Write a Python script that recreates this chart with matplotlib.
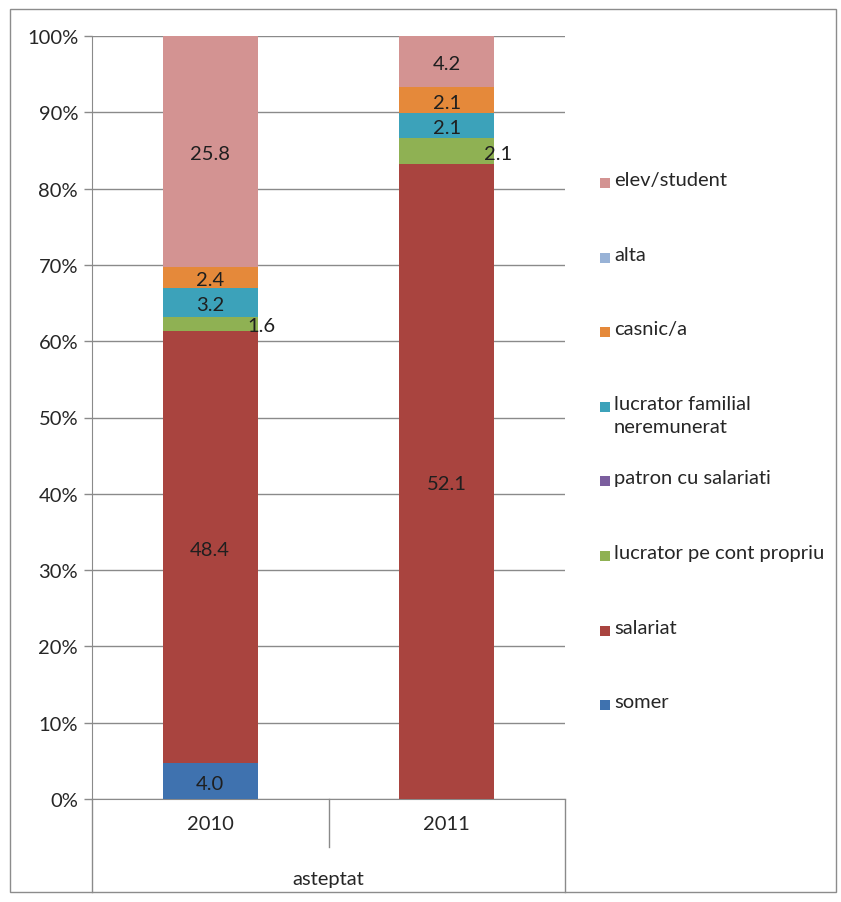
#!/usr/bin/env python3

import numpy as np
import matplotlib
matplotlib.use('Agg')
import matplotlib.pyplot as plt
from matplotlib.patches import Rectangle
from matplotlib.transforms import blended_transform_factory

plt.rcParams['font.family'] = ['Lato', 'DejaVu Sans']

# ------------------------------------------------------------
# data (values as printed on the bars; bars are 100% stacked)
# ------------------------------------------------------------
years = ["2010", "2011"]
group_label = "asteptat"

series_names = ["somer", "salariat", "lucrator pe cont propriu", "patron cu salariati",
                "lucrator familial\nneremunerat", "casnic/a", "alta", "elev/student"]
series_colors = ["#3F72AF", "#A9443F", "#8FB153", "#7B5E9E",
                 "#3CA2BA", "#E5893A", "#98B2D6", "#D39392"]

somer      = [4.0, 0.0]
salariat   = [48.4, 52.1]
cont_prop  = [1.6, 2.1]
patron     = [0.0, 0.0]
familial   = [3.2, 2.1]
casnic     = [2.4, 2.1]
alta       = [0.0, 0.0]
student    = [25.8, 4.2]

values = np.array([somer, salariat, cont_prop, patron, familial, casnic, alta, student])

FS = 14.5

# ------------------------------------------------------------
W, H = 841, 903
fig = plt.figure(figsize=(W / 100, H / 100), dpi=100)

# outer chart border
fig.patches.append(Rectangle((10 / W, 10 / H), 826 / W, 883 / H, transform=fig.transFigure,
                             fill=False, edgecolor='#8c8c8c', linewidth=1.0))

ax = fig.add_axes([92 / W, (H - 800) / H, (565 - 92) / W, (800 - 37) / H])

totals = values.sum(axis=0)
pct = values / totals * 100.0
x = np.arange(len(years))
bar_w = 0.4

bottom = np.zeros(len(years))
for i in range(len(series_names)):
    ax.bar(x, pct[i], bar_w, bottom=bottom, color=series_colors[i], linewidth=0, zorder=3)
    for j in range(len(years)):
        if values[i, j] <= 0:
            continue
        yc = bottom[j] + pct[i, j] / 2.0
        txt = "%.1f" % values[i, j]
        if i == 2:
            # small green segment: label pushed to the bar's right edge
            ax.annotate(txt, (x[j] + bar_w / 2, yc - 0.3), xytext=(-7, 0), textcoords='offset points',
                        ha='left', va='center', fontsize=FS, color='#1f1f1f', zorder=5)
        else:
            ax.text(x[j], yc - 0.3, txt, ha='center', va='center', fontsize=FS,
                    color='#1f1f1f', zorder=5)
    bottom += pct[i]

ax.set_xlim(-0.5, 1.5)
ax.set_ylim(0, 100)
ax.set_yticks(np.arange(0, 101, 10))
ax.set_yticklabels(["%d%%" % v for v in range(0, 101, 10)], fontsize=FS, color='#262626')
ax.yaxis.grid(True, color='#8a8a8a', linewidth=1.0, zorder=0)
ax.set_axisbelow(True)
ax.tick_params(axis='y', length=6, width=1, color='#8a8a8a', pad=4)

for side in ['top', 'right']:
    ax.spines[side].set_visible(False)
ax.spines['left'].set_color('#8a8a8a')
ax.spines['bottom'].set_color('#8a8a8a')

# multi-level category axis
ax.set_xticks([])
trans = blended_transform_factory(ax.transData, ax.transAxes)
for j in range(len(years)):
    ax.text(x[j], -25 / 763, years[j], transform=trans, ha='center', va='center',
            fontsize=FS, color='#262626')
ax.plot([0.5, 0.5], [0, -48 / 763], transform=trans, color='#8a8a8a', lw=1, clip_on=False)
ax.plot([-0.5, -0.5], [0, -93 / 763], transform=trans, color='#8a8a8a', lw=1, clip_on=False)
ax.plot([1.5, 1.5], [0, -93 / 763], transform=trans, color='#8a8a8a', lw=1, clip_on=False)
ax.text(0.5, -80 / 763, group_label, transform=trans, ha='center', va='center',
        fontsize=FS, color='#262626')

# legend (reverse order, top to bottom)
for k, i in enumerate(range(len(series_names) - 1, -1, -1)):
    yc = 184 + 74.6 * k
    fig.patches.append(Rectangle((600 / W, (H - yc - 5) / H), 10 / W, 10 / H,
                                 transform=fig.transFigure, facecolor=series_colors[i],
                                 edgecolor='none'))
    fig.text(614 / W, (H - yc + 12) / H, series_names[i], ha='left', va='top',
             fontsize=FS, color='#262626', linespacing=1.45)

plt.savefig("out.png", dpi=100)
